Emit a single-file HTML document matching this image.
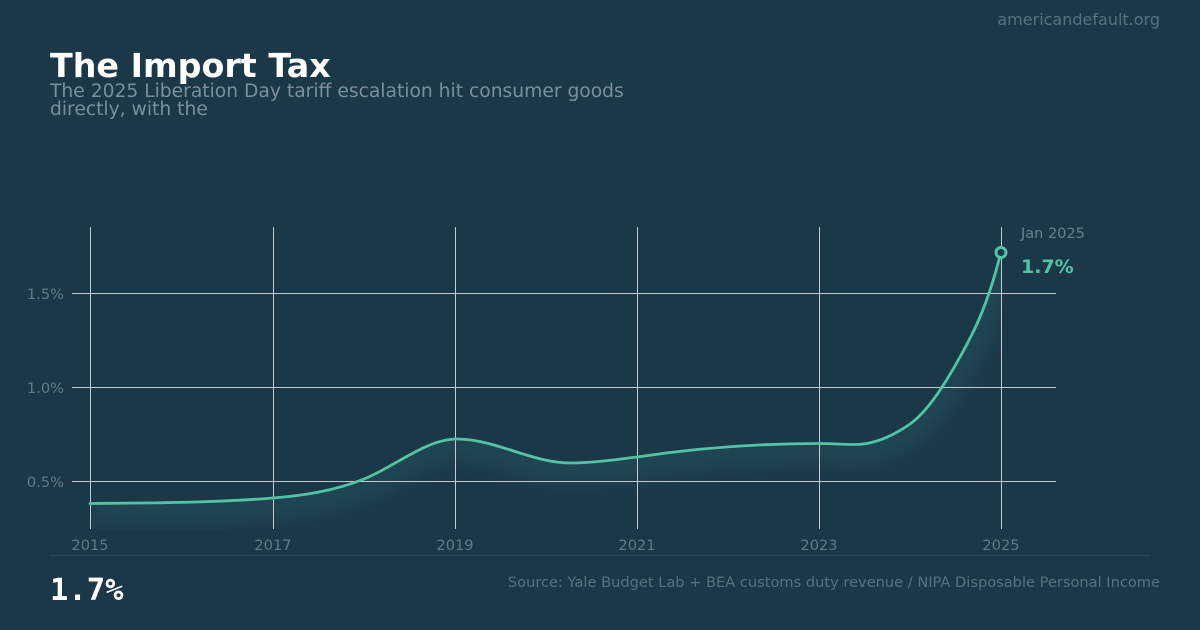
<!DOCTYPE html>
<html><head><meta charset="utf-8"><style>
html,body{margin:0;padding:0;background:#1b3849;}
svg{display:block;}
text{font-family:"DejaVu Sans","Liberation Sans",sans-serif;}
</style></head><body>
<svg width="1200" height="630" viewBox="0 0 1200 630" xmlns="http://www.w3.org/2000/svg">
<defs>
<clipPath id="below">
<path d="M90,503.5 C151,502.9 212,502.9 273,498 C303.3,495.6 333.7,491.1 364,479 C395,466.6 426,439 457,439 C494.7,439 532.3,463 570,463 C592.3,463 614.7,459.7 637,457 C697.7,447.9 758.3,443.5 819,443.5 C831,443.5 843,444.5 855,444.5 C873.3,444.5 891.7,436.8 910,424 C926.7,412.3 943.3,387 960,357 C973.7,332.4 987.3,306.7 1001,252 L1001,529 L90,529 Z"/>
</clipPath>
<filter id="blur" x="-10%" y="-50%" width="120%" height="200%"><feGaussianBlur stdDeviation="10"/></filter>
</defs>
<rect width="1200" height="630" fill="#1b3849"/>
<text x="1160" y="25" text-anchor="end" font-size="16" fill="#587180">americandefault.org</text>
<text x="50" y="77" font-size="33.3" font-weight="bold" fill="#ffffff">The Import Tax</text>
<text x="50" y="97" font-size="18.7" fill="#7b8f9b">The 2025 Liberation Day tariff escalation hit consumer goods</text>
<text x="50" y="115" font-size="18.7" fill="#7b8f9b">directly, with the</text>

<g clip-path="url(#below)">
<path d="M90,503.5 C151,502.9 212,502.9 273,498 C303.3,495.6 333.7,491.1 364,479 C395,466.6 426,439 457,439 C494.7,439 532.3,463 570,463 C592.3,463 614.7,459.7 637,457 C697.7,447.9 758.3,443.5 819,443.5 C831,443.5 843,444.5 855,444.5 C873.3,444.5 891.7,436.8 910,424 C926.7,412.3 943.3,387 960,357 C973.7,332.4 987.3,306.7 1001,252" fill="none" stroke="#52c4a5" stroke-opacity="0.1" stroke-width="34" filter="url(#blur)" transform="translate(0,4)"/>
</g>

<g stroke="#c3cbd1" stroke-width="1">
<line x1="72" y1="293.5" x2="1056" y2="293.5"/>
<line x1="72" y1="387.5" x2="1056" y2="387.5"/>
<line x1="72" y1="481.5" x2="1056" y2="481.5"/>
<line x1="90.5" y1="227" x2="90.5" y2="529"/>
<line x1="273.5" y1="227" x2="273.5" y2="529"/>
<line x1="455.5" y1="227" x2="455.5" y2="529"/>
<line x1="637.5" y1="227" x2="637.5" y2="529"/>
<line x1="819.5" y1="227" x2="819.5" y2="529"/>
<line x1="1001.5" y1="227" x2="1001.5" y2="529"/>
</g>
<g font-size="14.6" fill="#617a88" text-anchor="end">
<text x="64" y="299">1.5%</text>
<text x="64" y="393">1.0%</text>
<text x="64" y="487">0.5%</text>
</g>
<g font-size="14.6" fill="#617a88" text-anchor="middle">
<text x="90" y="550">2015</text>
<text x="273" y="550">2017</text>
<text x="455" y="550">2019</text>
<text x="637" y="550">2021</text>
<text x="819" y="550">2023</text>
<text x="1001" y="550">2025</text>
</g>

<path d="M90,503.5 C151,502.9 212,502.9 273,498 C303.3,495.6 333.7,491.1 364,479 C395,466.6 426,439 457,439 C494.7,439 532.3,463 570,463 C592.3,463 614.7,459.7 637,457 C697.7,447.9 758.3,443.5 819,443.5 C831,443.5 843,444.5 855,444.5 C873.3,444.5 891.7,436.8 910,424 C926.7,412.3 943.3,387 960,357 C973.7,332.4 987.3,306.7 1001,252" fill="none" stroke="#52c4a5" stroke-width="2.8" stroke-linecap="round" stroke-linejoin="round"/>
<circle cx="1001" cy="252.5" r="5" fill="#1b3849" stroke="#52c4a5" stroke-width="3"/>
<text x="1021" y="238" font-size="14.5" fill="#6a808d">Jan 2025</text>
<text x="1021" y="273" font-size="19" font-weight="bold" fill="#52c4a5">1.7%</text>

<line x1="50" y1="555.5" x2="1150" y2="555.5" stroke="#294a5c" stroke-width="1"/>
<text x="50" y="600" font-size="30.5" font-weight="bold" fill="#ffffff" style="font-family:'DejaVu Sans Mono','Liberation Mono',monospace">1.7%</text>
<text x="1160" y="587" text-anchor="end" font-size="14.6" fill="#587180">Source: Yale Budget Lab + BEA customs duty revenue / NIPA Disposable Personal Income</text>
</svg>
</body></html>
